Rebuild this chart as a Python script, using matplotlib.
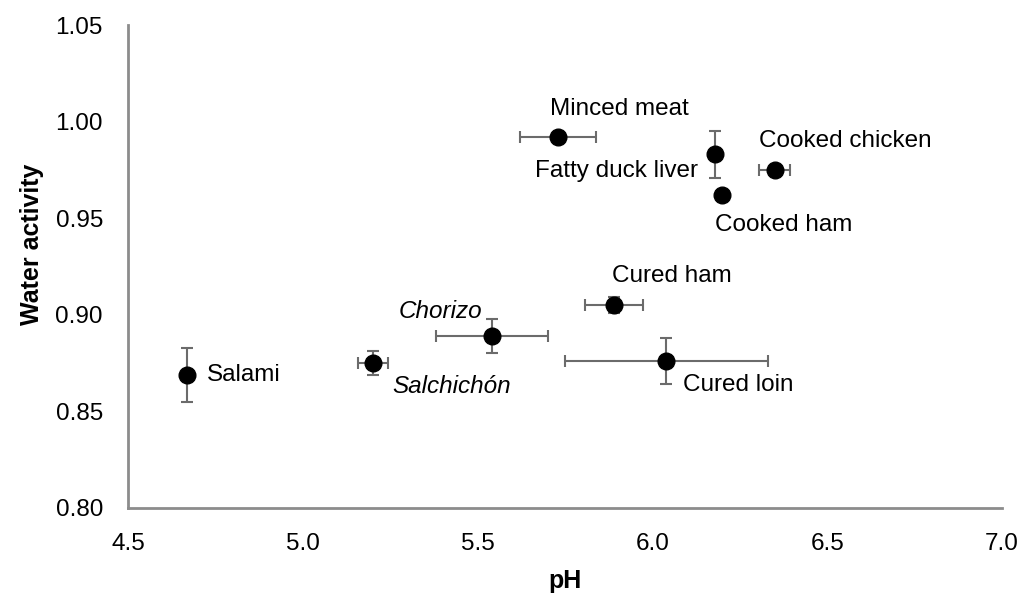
import numpy as np
import matplotlib
matplotlib.use("Agg")
from matplotlib import pyplot as plt

plt.rcParams['font.family'] = ['Liberation Sans', 'DejaVu Sans']

# data
names = ["Salami", "Salchichón", "Chorizo", "Minced meat", "Fatty duck liver",
         "Cooked ham", "Cooked chicken", "Cured ham", "Cured loin"]
ph = [4.67, 5.20, 5.54, 5.73, 6.18, 6.20, 6.35, 5.89, 6.04]
aw = [0.869, 0.875, 0.889, 0.992, 0.983, 0.962, 0.975, 0.905, 0.876]
ph_err = [0.0, 0.043, 0.16, 0.11, 0.0, 0.0, 0.044, 0.084, 0.29]
aw_err = [0.014, 0.006, 0.009, 0.0, 0.012, 0.0, 0.0, 0.004, 0.012]
italic = [False, True, True, False, False, False, False, False, False]

# label placement (pixel offsets from point, alignment)
lab_off = [(20, 0, 'left'), (20, -23, 'left'), (-9, 25, 'right'),
           (-8, 28, 'left'), (-17, -17, 'right'), (-7, -30, 'left'),
           (-16, 29, 'left'), (-2, 29, 'left'), (17, -24, 'left')]

fig = plt.figure(figsize=(10.18, 5.96), dpi=100)
ax = fig.add_axes([0.1257, 0.1477, 0.8586, 0.8103])

ax.errorbar(ph, aw, xerr=ph_err, yerr=aw_err, fmt='none', ecolor='#6b6b6b',
            elinewidth=1.5, capsize=4.2, capthick=1.5, zorder=2)
ax.plot(ph, aw, 'o', color='black', markersize=12, zorder=3)

for i in range(len(names)):
    dx, dy, ha = lab_off[i]
    ax.annotate(names[i], (ph[i], aw[i]), xytext=(dx, dy), textcoords='offset pixels',
                ha=ha, va='center', fontsize=17.5,
                style='italic' if italic[i] else 'normal')

ax.set_xlim(4.5, 7.0)
ax.set_ylim(0.80, 1.05)
ax.set_xticks(np.arange(4.5, 7.01, 0.5))
ax.set_yticks(np.arange(0.80, 1.051, 0.05))
ax.set_xticklabels(["%.1f" % v for v in np.arange(4.5, 7.01, 0.5)])
ax.set_yticklabels(["%.2f" % v for v in np.arange(0.80, 1.051, 0.05)])
ax.tick_params(length=0, labelsize=17.5)
ax.tick_params(axis='x', pad=18)
ax.tick_params(axis='y', pad=18)

for s in ['top', 'right']:
    ax.spines[s].set_visible(False)
for s in ['left', 'bottom']:
    ax.spines[s].set_color('#8c8c8c')
    ax.spines[s].set_linewidth(2)

ax.set_xlabel("pH", fontsize=18, fontweight='bold', labelpad=10)
ax.set_ylabel("Water activity", fontsize=18, fontweight='bold')
ax.yaxis.set_label_coords(-0.096, 0.545)

fig.savefig("out.png", dpi=100)
